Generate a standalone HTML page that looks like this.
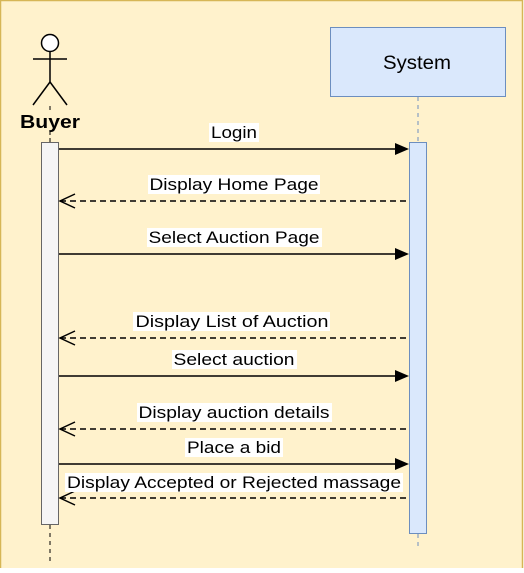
<!DOCTYPE html>
<html><head><style>
body{margin:0;width:524px;height:568px;overflow:hidden;background:#fff}
</style></head><body>
<svg width="524" height="568" xmlns="http://www.w3.org/2000/svg" font-family="Liberation Sans, sans-serif">
<rect x="0.5" y="0.5" width="522" height="580" fill="#fff2cc" stroke="#d6b656" stroke-width="1.5"/>
<circle cx="50" cy="43" r="8.5" fill="#fff" stroke="#000" stroke-width="1.5"/>
<line x1="50" y1="52" x2="50" y2="82" stroke="#000" stroke-width="1.5"/>
<line x1="33" y1="59" x2="67" y2="59" stroke="#000" stroke-width="1.5"/>
<line x1="50" y1="82" x2="33" y2="105" stroke="#000" stroke-width="1.5"/>
<line x1="50" y1="82" x2="67" y2="105" stroke="#000" stroke-width="1.5"/>
<text x="50" y="128" font-size="18" font-weight="bold" text-anchor="middle" textLength="60" lengthAdjust="spacingAndGlyphs">Buyer</text>
<line x1="50" y1="106" x2="50" y2="112" stroke="#000" stroke-dasharray="4 3"/>
<line x1="50" y1="131" x2="50" y2="142" stroke="#000" stroke-dasharray="4 3"/>
<line x1="50" y1="525" x2="50" y2="562" stroke="#000" stroke-dasharray="4 4"/>
<rect x="41.5" y="142.5" width="17" height="382" fill="#f5f5f5" stroke="#666"/>
<rect x="330.5" y="27.5" width="175" height="69" fill="#dae8fc" stroke="#6c8ebf"/>
<text x="417" y="69" font-size="19" text-anchor="middle" textLength="68" lengthAdjust="spacingAndGlyphs">System</text>
<line x1="418" y1="97" x2="418" y2="142" stroke="#6c8ebf" stroke-dasharray="4 4"/>
<line x1="418" y1="534" x2="418" y2="550" stroke="#6c8ebf" stroke-dasharray="4 4"/>
<rect x="409.5" y="142.5" width="17" height="391" fill="#dae8fc" stroke="#6c8ebf"/>
<g font-size="17" text-anchor="middle" stroke-width="1.5">
<g stroke="#000">
<line x1="59" y1="149" x2="396" y2="149"/>
<line x1="59" y1="254" x2="396" y2="254"/>
<line x1="59" y1="376" x2="396" y2="376"/>
<line x1="59" y1="464" x2="396" y2="464"/>
</g>
<g fill="#000">
<polygon points="409,149 395,143 395,155"/>
<polygon points="409,254 395,248 395,260"/>
<polygon points="409,376 395,370 395,382"/>
<polygon points="409,464 395,458 395,470"/>
</g>
<g stroke="#000" stroke-dasharray="6 4" fill="none">
<line x1="60" y1="201" x2="409" y2="201"/>
<line x1="60" y1="338" x2="409" y2="338"/>
<line x1="60" y1="429" x2="409" y2="429"/>
<line x1="60" y1="498" x2="409" y2="498"/>
</g>
<g stroke="#000" fill="none">
<polyline points="75,194 60,201 75,208"/>
<polyline points="75,331 60,338 75,345"/>
<polyline points="75,422 60,429 75,436"/>
<polyline points="75,491 60,498 75,505"/>
</g>
<g fill="#fff">
<rect x="209" y="123" width="50" height="19"/>
<rect x="148" y="175" width="172" height="19"/>
<rect x="147" y="228" width="175" height="19"/>
<rect x="133" y="312" width="197" height="19"/>
<rect x="172" y="350" width="125" height="19"/>
<rect x="137" y="403" width="195" height="19"/>
<rect x="185" y="438" width="98" height="19"/>
<rect x="65" y="473" width="338" height="19"/>
</g>
<g lengthAdjust="spacingAndGlyphs">
<text x="234" y="138" textLength="46" lengthAdjust="spacingAndGlyphs">Login</text>
<text x="234" y="190" textLength="169" lengthAdjust="spacingAndGlyphs">Display Home Page</text>
<text x="234" y="243" textLength="171" lengthAdjust="spacingAndGlyphs">Select Auction Page</text>
<text x="232" y="327" textLength="193" lengthAdjust="spacingAndGlyphs">Display List of  Auction</text>
<text x="234" y="365" textLength="121" lengthAdjust="spacingAndGlyphs">Select auction</text>
<text x="234" y="418" textLength="191" lengthAdjust="spacingAndGlyphs">Display auction details</text>
<text x="234" y="453" textLength="94" lengthAdjust="spacingAndGlyphs">Place a bid</text>
<text x="234" y="488" textLength="334" lengthAdjust="spacingAndGlyphs">Display Accepted or Rejected massage</text>
</g>
</g>
</svg>
</body></html>
